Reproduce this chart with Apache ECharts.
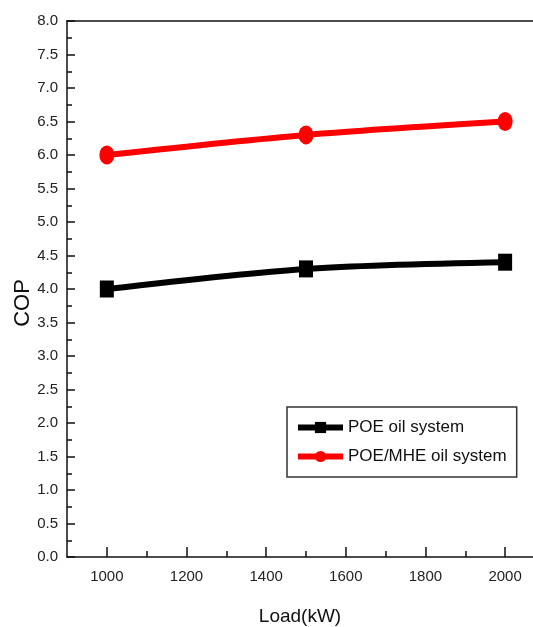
<!DOCTYPE html>
<html>
<head>
<meta charset="utf-8">
<script src="https://cdn.jsdelivr.net/npm/echarts@6/dist/echarts.min.js"></script>
<style>html,body{margin:0;padding:0;background:#fff;}#c{width:533px;height:627px;}</style>
</head>
<body>
<div id="c"></div>
<script>
var loads = [1000, 1500, 2000];
var poe = [4.0, 4.3, 4.4];
var poeMhe = [6.0, 6.3, 6.5];
var seriesNames = ['POE oil system', 'POE/MHE oil system'];
var xMajorTicks = [1000, 1200, 1400, 1600, 1800, 2000];
var xMinorTicks = [1100, 1300, 1500, 1700, 1900];

var font = "'Liberation Sans', Arial, sans-serif";
var X_MIN = 900, X_MAX = 2070;
var chart = echarts.init(document.getElementById('c'), null, {renderer: 'canvas'});
chart.setOption({
  animation: false,
  backgroundColor: '#fff',
  grid: {left: 67, top: 21, bottom: 70, right: 0, outerBoundsMode: 'none', containLabel: false},
  legend: {
    orient: 'vertical', left: 287, top: 407,
    borderColor: '#333', borderWidth: 1.5, padding: [12, 10, 12, 8],
    itemGap: 12, itemWidth: 45, itemHeight: 14,
    lineStyle: {width: 6},
    textStyle: {fontFamily: font, fontSize: 17, color: '#111'},
    data: seriesNames
  },
  xAxis: [
    {
      type: 'value', min: X_MIN, max: X_MAX,
      name: 'Load(kW)', nameLocation: 'middle', nameGap: 50,
      nameTextStyle: {fontFamily: font, fontSize: 19, color: '#111'},
      axisLine: {lineStyle: {color: '#111', width: 1.5}},
      axisTick: {inside: true, length: 10, customValues: xMajorTicks, lineStyle: {color: '#111', width: 1.5}},
      splitLine: {show: false},
      axisLabel: {fontFamily: font, fontSize: 15, color: '#222', margin: 12,
        customValues: xMajorTicks, formatter: function (v) { return String(v); }}
    },
    {
      type: 'value', min: X_MIN, max: X_MAX, position: 'bottom',
      axisLine: {show: false},
      axisTick: {show: true, inside: true, length: 6, customValues: xMinorTicks, lineStyle: {color: '#111', width: 1.5}},
      axisLabel: {show: false},
      splitLine: {show: false}
    },
    {
      type: 'value', min: X_MIN, max: X_MAX, position: 'top',
      axisLine: {show: true, lineStyle: {color: '#111', width: 1.5}},
      axisTick: {show: false},
      axisLabel: {show: false},
      splitLine: {show: false}
    }
  ],
  yAxis: {
    type: 'value', min: 0, max: 8, interval: 0.5,
    name: 'COP', nameLocation: 'middle', nameGap: 33, nameRotate: 90, nameMoveOverlap: false,
    nameTextStyle: {fontFamily: font, fontSize: 22, color: '#111', padding: [0, 28, 0, 0]},
    axisLine: {show: true, lineStyle: {color: '#111', width: 1.5}},
    axisTick: {show: true, inside: true, length: 8, lineStyle: {color: '#111', width: 1.5}},
    minorTick: {show: true, splitNumber: 2, length: 5, lineStyle: {color: '#111', width: 1.5}},
    splitLine: {show: false},
    axisLabel: {fontFamily: font, fontSize: 15, color: '#222', margin: 9,
      formatter: function (v) { return v.toFixed(1); }}
  },
  series: [
    {
      name: seriesNames[0], type: 'line', smooth: 0.3,
      data: loads.map(function (x, i) { return [x, poe[i]]; }),
      symbol: 'rect', symbolSize: [14, 17],
      lineStyle: {color: '#000', width: 6},
      itemStyle: {color: '#000'}
    },
    {
      name: seriesNames[1], type: 'line', smooth: 0.3,
      data: loads.map(function (x, i) { return [x, poeMhe[i]]; }),
      symbol: 'circle', symbolSize: [15, 19],
      lineStyle: {color: '#f00', width: 6},
      itemStyle: {color: '#f00'}
    }
  ]
});
</script>
</body>
</html>
